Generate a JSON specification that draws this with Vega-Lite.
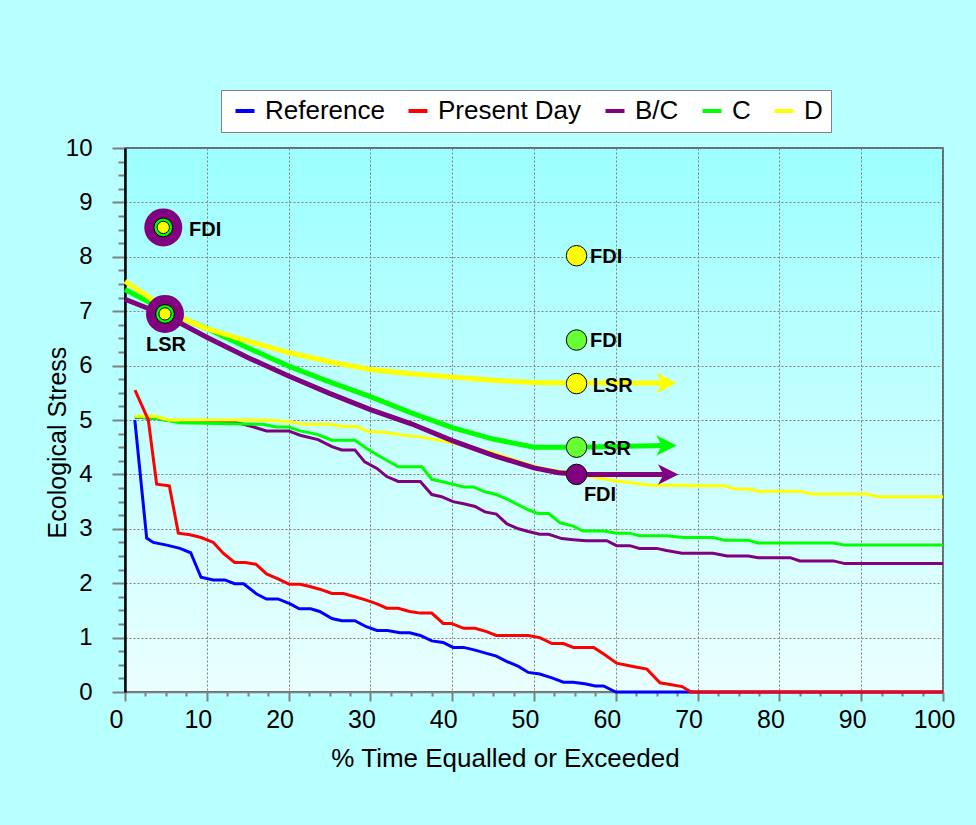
{
  "$schema": "https://vega.github.io/schema/vega-lite/v6.json",
  "autosize": {"type": "none"},
  "width": 818,
  "height": 544,
  "padding": {"left": 125, "top": 148, "right": 33, "bottom": 133},
  "background": "#B8FFFF",
  "config": {
    "font": "Liberation Sans",
    "view": {
      "stroke": "#404040",
      "strokeWidth": 1.5,
      "fill": {"gradient": "linear", "x1": 0, "y1": 0, "x2": 0, "y2": 1,
        "stops": [{"offset": 0, "color": "#9CFFFF"}, {"offset": 1, "color": "#EAFFFF"}]}
    }
  },
  "datasets": {
    "curves": [
      {"series": "B/C", "part": "flow", "x": 1.2, "y": 5.05},
      {"series": "B/C", "part": "flow", "x": 3.7, "y": 5.03},
      {"series": "B/C", "part": "flow", "x": 5.3, "y": 4.99},
      {"series": "B/C", "part": "flow", "x": 13.2, "y": 4.97},
      {"series": "B/C", "part": "flow", "x": 15.3, "y": 4.89},
      {"series": "B/C", "part": "flow", "x": 17.3, "y": 4.8},
      {"series": "B/C", "part": "flow", "x": 20, "y": 4.8},
      {"series": "B/C", "part": "flow", "x": 21.4, "y": 4.72},
      {"series": "B/C", "part": "flow", "x": 23.6, "y": 4.64},
      {"series": "B/C", "part": "flow", "x": 25.3, "y": 4.51},
      {"series": "B/C", "part": "flow", "x": 26.5, "y": 4.45},
      {"series": "B/C", "part": "flow", "x": 28.1, "y": 4.45},
      {"series": "B/C", "part": "flow", "x": 29.3, "y": 4.23},
      {"series": "B/C", "part": "flow", "x": 30.8, "y": 4.11},
      {"series": "B/C", "part": "flow", "x": 32, "y": 3.96},
      {"series": "B/C", "part": "flow", "x": 33.4, "y": 3.87},
      {"series": "B/C", "part": "flow", "x": 36.1, "y": 3.87},
      {"series": "B/C", "part": "flow", "x": 37.5, "y": 3.63},
      {"series": "B/C", "part": "flow", "x": 38.7, "y": 3.59},
      {"series": "B/C", "part": "flow", "x": 40.1, "y": 3.5},
      {"series": "B/C", "part": "flow", "x": 41.4, "y": 3.46},
      {"series": "B/C", "part": "flow", "x": 42.8, "y": 3.41},
      {"series": "B/C", "part": "flow", "x": 44, "y": 3.31},
      {"series": "B/C", "part": "flow", "x": 45.4, "y": 3.27},
      {"series": "B/C", "part": "flow", "x": 46.7, "y": 3.09},
      {"series": "B/C", "part": "flow", "x": 48.1, "y": 3.0},
      {"series": "B/C", "part": "flow", "x": 49.3, "y": 2.95},
      {"series": "B/C", "part": "flow", "x": 50.7, "y": 2.9},
      {"series": "B/C", "part": "flow", "x": 51.8, "y": 2.9},
      {"series": "B/C", "part": "flow", "x": 53.4, "y": 2.82},
      {"series": "B/C", "part": "flow", "x": 54.8, "y": 2.8},
      {"series": "B/C", "part": "flow", "x": 56.4, "y": 2.78},
      {"series": "B/C", "part": "flow", "x": 58.9, "y": 2.78},
      {"series": "B/C", "part": "flow", "x": 60.1, "y": 2.69},
      {"series": "B/C", "part": "flow", "x": 61.7, "y": 2.69},
      {"series": "B/C", "part": "flow", "x": 62.9, "y": 2.64},
      {"series": "B/C", "part": "flow", "x": 65, "y": 2.64},
      {"series": "B/C", "part": "flow", "x": 66.2, "y": 2.6},
      {"series": "B/C", "part": "flow", "x": 68.1, "y": 2.55},
      {"series": "B/C", "part": "flow", "x": 71.9, "y": 2.55},
      {"series": "B/C", "part": "flow", "x": 73.6, "y": 2.5},
      {"series": "B/C", "part": "flow", "x": 76.2, "y": 2.5},
      {"series": "B/C", "part": "flow", "x": 77.4, "y": 2.47},
      {"series": "B/C", "part": "flow", "x": 81.3, "y": 2.47},
      {"series": "B/C", "part": "flow", "x": 82.5, "y": 2.41},
      {"series": "B/C", "part": "flow", "x": 86.6, "y": 2.41},
      {"series": "B/C", "part": "flow", "x": 88, "y": 2.36},
      {"series": "B/C", "part": "flow", "x": 100, "y": 2.36},
      {"series": "C", "part": "flow", "x": 1.2, "y": 5.06},
      {"series": "C", "part": "flow", "x": 3.7, "y": 5.03},
      {"series": "C", "part": "flow", "x": 6.7, "y": 4.95},
      {"series": "C", "part": "flow", "x": 16.9, "y": 4.92},
      {"series": "C", "part": "flow", "x": 18.5, "y": 4.87},
      {"series": "C", "part": "flow", "x": 20, "y": 4.87},
      {"series": "C", "part": "flow", "x": 21.4, "y": 4.8},
      {"series": "C", "part": "flow", "x": 23.4, "y": 4.74},
      {"series": "C", "part": "flow", "x": 25.3, "y": 4.63},
      {"series": "C", "part": "flow", "x": 28.1, "y": 4.63},
      {"series": "C", "part": "flow", "x": 29.5, "y": 4.48},
      {"series": "C", "part": "flow", "x": 30.8, "y": 4.36},
      {"series": "C", "part": "flow", "x": 32, "y": 4.26},
      {"series": "C", "part": "flow", "x": 33.4, "y": 4.14},
      {"series": "C", "part": "flow", "x": 36.3, "y": 4.14},
      {"series": "C", "part": "flow", "x": 37.5, "y": 3.91},
      {"series": "C", "part": "flow", "x": 38.7, "y": 3.87},
      {"series": "C", "part": "flow", "x": 40.1, "y": 3.82},
      {"series": "C", "part": "flow", "x": 41.4, "y": 3.77},
      {"series": "C", "part": "flow", "x": 42.6, "y": 3.77},
      {"series": "C", "part": "flow", "x": 44, "y": 3.68},
      {"series": "C", "part": "flow", "x": 45.4, "y": 3.63},
      {"series": "C", "part": "flow", "x": 46.9, "y": 3.53},
      {"series": "C", "part": "flow", "x": 48.1, "y": 3.44},
      {"series": "C", "part": "flow", "x": 49.3, "y": 3.35},
      {"series": "C", "part": "flow", "x": 50.5, "y": 3.28},
      {"series": "C", "part": "flow", "x": 51.8, "y": 3.28},
      {"series": "C", "part": "flow", "x": 53.2, "y": 3.11},
      {"series": "C", "part": "flow", "x": 54.8, "y": 3.05},
      {"series": "C", "part": "flow", "x": 56, "y": 2.96},
      {"series": "C", "part": "flow", "x": 58.5, "y": 2.96},
      {"series": "C", "part": "flow", "x": 60.1, "y": 2.92},
      {"series": "C", "part": "flow", "x": 61.7, "y": 2.92},
      {"series": "C", "part": "flow", "x": 62.9, "y": 2.87},
      {"series": "C", "part": "flow", "x": 66.2, "y": 2.87},
      {"series": "C", "part": "flow", "x": 68.3, "y": 2.84},
      {"series": "C", "part": "flow", "x": 71.9, "y": 2.84},
      {"series": "C", "part": "flow", "x": 73.3, "y": 2.79},
      {"series": "C", "part": "flow", "x": 76.2, "y": 2.79},
      {"series": "C", "part": "flow", "x": 77.4, "y": 2.74},
      {"series": "C", "part": "flow", "x": 86.6, "y": 2.74},
      {"series": "C", "part": "flow", "x": 88, "y": 2.7},
      {"series": "C", "part": "flow", "x": 100, "y": 2.7},
      {"series": "D", "part": "flow", "x": 1.2, "y": 5.07},
      {"series": "D", "part": "flow", "x": 3.7, "y": 5.07},
      {"series": "D", "part": "flow", "x": 5.3, "y": 5.0},
      {"series": "D", "part": "flow", "x": 17.3, "y": 5.0},
      {"series": "D", "part": "flow", "x": 20.2, "y": 4.97},
      {"series": "D", "part": "flow", "x": 21.8, "y": 4.92},
      {"series": "D", "part": "flow", "x": 25.1, "y": 4.92},
      {"series": "D", "part": "flow", "x": 26.5, "y": 4.88},
      {"series": "D", "part": "flow", "x": 28.3, "y": 4.88},
      {"series": "D", "part": "flow", "x": 29.7, "y": 4.79},
      {"series": "D", "part": "flow", "x": 32, "y": 4.77},
      {"series": "D", "part": "flow", "x": 33.6, "y": 4.73},
      {"series": "D", "part": "flow", "x": 36.1, "y": 4.69},
      {"series": "D", "part": "flow", "x": 40, "y": 4.58},
      {"series": "D", "part": "flow", "x": 45, "y": 4.4},
      {"series": "D", "part": "flow", "x": 48, "y": 4.25},
      {"series": "D", "part": "flow", "x": 50.7, "y": 4.12},
      {"series": "D", "part": "flow", "x": 54, "y": 4.04},
      {"series": "D", "part": "flow", "x": 58.1, "y": 3.93},
      {"series": "D", "part": "flow", "x": 60.1, "y": 3.88},
      {"series": "D", "part": "flow", "x": 62.1, "y": 3.84},
      {"series": "D", "part": "flow", "x": 64.2, "y": 3.8},
      {"series": "D", "part": "flow", "x": 68.3, "y": 3.8},
      {"series": "D", "part": "flow", "x": 69.3, "y": 3.79},
      {"series": "D", "part": "flow", "x": 73.3, "y": 3.79},
      {"series": "D", "part": "flow", "x": 74.6, "y": 3.73},
      {"series": "D", "part": "flow", "x": 76.2, "y": 3.73},
      {"series": "D", "part": "flow", "x": 77.4, "y": 3.69},
      {"series": "D", "part": "flow", "x": 82.5, "y": 3.69},
      {"series": "D", "part": "flow", "x": 83.9, "y": 3.64},
      {"series": "D", "part": "flow", "x": 90.7, "y": 3.64},
      {"series": "D", "part": "flow", "x": 92.1, "y": 3.59},
      {"series": "D", "part": "flow", "x": 100, "y": 3.59},
      {"series": "Reference", "part": "flow", "x": 1.2, "y": 5.0},
      {"series": "Reference", "part": "flow", "x": 2.65, "y": 2.83},
      {"series": "Reference", "part": "flow", "x": 3.46, "y": 2.75},
      {"series": "Reference", "part": "flow", "x": 5.1, "y": 2.7},
      {"series": "Reference", "part": "flow", "x": 6.72, "y": 2.64},
      {"series": "Reference", "part": "flow", "x": 8.03, "y": 2.56},
      {"series": "Reference", "part": "flow", "x": 9.29, "y": 2.11},
      {"series": "Reference", "part": "flow", "x": 10.8, "y": 2.06},
      {"series": "Reference", "part": "flow", "x": 12.2, "y": 2.06},
      {"series": "Reference", "part": "flow", "x": 13.4, "y": 1.99},
      {"series": "Reference", "part": "flow", "x": 14.5, "y": 1.99},
      {"series": "Reference", "part": "flow", "x": 16.1, "y": 1.8},
      {"series": "Reference", "part": "flow", "x": 17.3, "y": 1.71},
      {"series": "Reference", "part": "flow", "x": 18.7, "y": 1.71},
      {"series": "Reference", "part": "flow", "x": 20.2, "y": 1.62},
      {"series": "Reference", "part": "flow", "x": 21.3, "y": 1.53},
      {"series": "Reference", "part": "flow", "x": 22.7, "y": 1.53},
      {"series": "Reference", "part": "flow", "x": 23.8, "y": 1.48},
      {"series": "Reference", "part": "flow", "x": 25.3, "y": 1.35},
      {"series": "Reference", "part": "flow", "x": 26.5, "y": 1.31},
      {"series": "Reference", "part": "flow", "x": 28.1, "y": 1.31},
      {"series": "Reference", "part": "flow", "x": 29.5, "y": 1.2},
      {"series": "Reference", "part": "flow", "x": 30.8, "y": 1.13},
      {"series": "Reference", "part": "flow", "x": 32.1, "y": 1.13},
      {"series": "Reference", "part": "flow", "x": 33.6, "y": 1.09},
      {"series": "Reference", "part": "flow", "x": 34.8, "y": 1.09},
      {"series": "Reference", "part": "flow", "x": 36.1, "y": 1.04},
      {"series": "Reference", "part": "flow", "x": 37.5, "y": 0.94},
      {"series": "Reference", "part": "flow", "x": 38.9, "y": 0.91},
      {"series": "Reference", "part": "flow", "x": 40.1, "y": 0.82},
      {"series": "Reference", "part": "flow", "x": 41.4, "y": 0.82},
      {"series": "Reference", "part": "flow", "x": 42.8, "y": 0.77},
      {"series": "Reference", "part": "flow", "x": 44.2, "y": 0.71},
      {"series": "Reference", "part": "flow", "x": 45.4, "y": 0.66},
      {"series": "Reference", "part": "flow", "x": 46.7, "y": 0.56},
      {"series": "Reference", "part": "flow", "x": 48.1, "y": 0.47},
      {"series": "Reference", "part": "flow", "x": 49.3, "y": 0.36},
      {"series": "Reference", "part": "flow", "x": 50.7, "y": 0.33},
      {"series": "Reference", "part": "flow", "x": 52.2, "y": 0.26},
      {"series": "Reference", "part": "flow", "x": 53.6, "y": 0.18},
      {"series": "Reference", "part": "flow", "x": 54.8, "y": 0.18},
      {"series": "Reference", "part": "flow", "x": 56.2, "y": 0.15},
      {"series": "Reference", "part": "flow", "x": 57.5, "y": 0.11},
      {"series": "Reference", "part": "flow", "x": 58.5, "y": 0.11},
      {"series": "Reference", "part": "flow", "x": 60.0, "y": 0.0},
      {"series": "Reference", "part": "flow", "x": 100, "y": 0.0},
      {"series": "Present Day", "part": "flow", "x": 1.22, "y": 5.55},
      {"series": "Present Day", "part": "flow", "x": 2.85, "y": 5.0},
      {"series": "Present Day", "part": "flow", "x": 3.87, "y": 3.82},
      {"series": "Present Day", "part": "flow", "x": 5.42, "y": 3.79},
      {"series": "Present Day", "part": "flow", "x": 6.52, "y": 2.92},
      {"series": "Present Day", "part": "flow", "x": 7.95, "y": 2.89},
      {"series": "Present Day", "part": "flow", "x": 9.3, "y": 2.84},
      {"series": "Present Day", "part": "flow", "x": 10.8, "y": 2.75},
      {"series": "Present Day", "part": "flow", "x": 12.0, "y": 2.55},
      {"series": "Present Day", "part": "flow", "x": 13.4, "y": 2.38},
      {"series": "Present Day", "part": "flow", "x": 14.7, "y": 2.38},
      {"series": "Present Day", "part": "flow", "x": 16.0, "y": 2.35},
      {"series": "Present Day", "part": "flow", "x": 17.3, "y": 2.17},
      {"series": "Present Day", "part": "flow", "x": 18.7, "y": 2.08},
      {"series": "Present Day", "part": "flow", "x": 20.1, "y": 1.98},
      {"series": "Present Day", "part": "flow", "x": 21.4, "y": 1.98},
      {"series": "Present Day", "part": "flow", "x": 22.6, "y": 1.94},
      {"series": "Present Day", "part": "flow", "x": 23.8, "y": 1.89},
      {"series": "Present Day", "part": "flow", "x": 25.3, "y": 1.81},
      {"series": "Present Day", "part": "flow", "x": 26.7, "y": 1.81},
      {"series": "Present Day", "part": "flow", "x": 28.1, "y": 1.75},
      {"series": "Present Day", "part": "flow", "x": 29.5, "y": 1.69},
      {"series": "Present Day", "part": "flow", "x": 30.8, "y": 1.62},
      {"series": "Present Day", "part": "flow", "x": 32.0, "y": 1.54},
      {"series": "Present Day", "part": "flow", "x": 33.4, "y": 1.54},
      {"series": "Present Day", "part": "flow", "x": 34.8, "y": 1.48},
      {"series": "Present Day", "part": "flow", "x": 36.1, "y": 1.45},
      {"series": "Present Day", "part": "flow", "x": 37.5, "y": 1.45},
      {"series": "Present Day", "part": "flow", "x": 38.9, "y": 1.26},
      {"series": "Present Day", "part": "flow", "x": 39.9, "y": 1.26},
      {"series": "Present Day", "part": "flow", "x": 41.4, "y": 1.17},
      {"series": "Present Day", "part": "flow", "x": 42.8, "y": 1.17},
      {"series": "Present Day", "part": "flow", "x": 44.2, "y": 1.11},
      {"series": "Present Day", "part": "flow", "x": 45.4, "y": 1.04},
      {"series": "Present Day", "part": "flow", "x": 49.3, "y": 1.04},
      {"series": "Present Day", "part": "flow", "x": 50.7, "y": 1.0},
      {"series": "Present Day", "part": "flow", "x": 52.2, "y": 0.89},
      {"series": "Present Day", "part": "flow", "x": 53.6, "y": 0.89},
      {"series": "Present Day", "part": "flow", "x": 54.8, "y": 0.82},
      {"series": "Present Day", "part": "flow", "x": 57.3, "y": 0.82},
      {"series": "Present Day", "part": "flow", "x": 58.7, "y": 0.68},
      {"series": "Present Day", "part": "flow", "x": 60.1, "y": 0.53},
      {"series": "Present Day", "part": "flow", "x": 62.1, "y": 0.47},
      {"series": "Present Day", "part": "flow", "x": 63.8, "y": 0.42},
      {"series": "Present Day", "part": "flow", "x": 65.4, "y": 0.17},
      {"series": "Present Day", "part": "flow", "x": 67.0, "y": 0.13},
      {"series": "Present Day", "part": "flow", "x": 68.1, "y": 0.1},
      {"series": "Present Day", "part": "flow", "x": 69.2, "y": 0.0},
      {"series": "Present Day", "part": "flow", "x": 100, "y": 0.0},
      {"series": "B/C", "part": "trend", "x": 0, "y": 7.22},
      {"series": "B/C", "part": "trend", "x": 5, "y": 6.92},
      {"series": "B/C", "part": "trend", "x": 10, "y": 6.52},
      {"series": "B/C", "part": "trend", "x": 15, "y": 6.15},
      {"series": "B/C", "part": "trend", "x": 20, "y": 5.81},
      {"series": "B/C", "part": "trend", "x": 25, "y": 5.49},
      {"series": "B/C", "part": "trend", "x": 30, "y": 5.19},
      {"series": "B/C", "part": "trend", "x": 35, "y": 4.93},
      {"series": "B/C", "part": "trend", "x": 40, "y": 4.62},
      {"series": "B/C", "part": "trend", "x": 45, "y": 4.35},
      {"series": "B/C", "part": "trend", "x": 50, "y": 4.12},
      {"series": "B/C", "part": "trend", "x": 53, "y": 4.03},
      {"series": "B/C", "part": "trend", "x": 56, "y": 4.0},
      {"series": "B/C", "part": "trend", "x": 66.4, "y": 4.0},
      {"series": "C", "part": "trend", "x": 0, "y": 7.4},
      {"series": "C", "part": "trend", "x": 2.5, "y": 7.2},
      {"series": "C", "part": "trend", "x": 5, "y": 7.0},
      {"series": "C", "part": "trend", "x": 10, "y": 6.68},
      {"series": "C", "part": "trend", "x": 15, "y": 6.33},
      {"series": "C", "part": "trend", "x": 20, "y": 5.99},
      {"series": "C", "part": "trend", "x": 25, "y": 5.7},
      {"series": "C", "part": "trend", "x": 30, "y": 5.43},
      {"series": "C", "part": "trend", "x": 35, "y": 5.13},
      {"series": "C", "part": "trend", "x": 40, "y": 4.86},
      {"series": "C", "part": "trend", "x": 45, "y": 4.65},
      {"series": "C", "part": "trend", "x": 50, "y": 4.5},
      {"series": "C", "part": "trend", "x": 55, "y": 4.5},
      {"series": "C", "part": "trend", "x": 66.2, "y": 4.53},
      {"series": "D", "part": "trend", "x": 0, "y": 7.55},
      {"series": "D", "part": "trend", "x": 2.5, "y": 7.3},
      {"series": "D", "part": "trend", "x": 5, "y": 7.05},
      {"series": "D", "part": "trend", "x": 7.5, "y": 6.84},
      {"series": "D", "part": "trend", "x": 10, "y": 6.68},
      {"series": "D", "part": "trend", "x": 15, "y": 6.45},
      {"series": "D", "part": "trend", "x": 20, "y": 6.24},
      {"series": "D", "part": "trend", "x": 25, "y": 6.07},
      {"series": "D", "part": "trend", "x": 30, "y": 5.93},
      {"series": "D", "part": "trend", "x": 35, "y": 5.85},
      {"series": "D", "part": "trend", "x": 40, "y": 5.79},
      {"series": "D", "part": "trend", "x": 45, "y": 5.73},
      {"series": "D", "part": "trend", "x": 50, "y": 5.69},
      {"series": "D", "part": "trend", "x": 55, "y": 5.68},
      {"series": "D", "part": "trend", "x": 66.2, "y": 5.68}
    ],
    "sites": [
      {"site": "FDI", "set": "combined", "scenario": "B/C", "x": 4.68, "y": 8.54},
      {"site": "FDI", "set": "combined", "scenario": "C", "x": 4.68, "y": 8.54},
      {"site": "FDI", "set": "combined", "scenario": "D", "x": 4.68, "y": 8.54},
      {"site": "LSR", "set": "combined", "scenario": "B/C", "x": 4.89, "y": 6.95},
      {"site": "LSR", "set": "combined", "scenario": "C", "x": 4.89, "y": 6.95},
      {"site": "LSR", "set": "combined", "scenario": "D", "x": 4.89, "y": 6.95},
      {"site": "FDI", "set": "scenario", "scenario": "D", "x": 55.2, "y": 8.02},
      {"site": "FDI", "set": "scenario", "scenario": "C", "x": 55.2, "y": 6.47},
      {"site": "LSR", "set": "scenario", "scenario": "D", "x": 55.2, "y": 5.67},
      {"site": "LSR", "set": "scenario", "scenario": "C", "x": 55.2, "y": 4.5},
      {"site": "FDI", "set": "scenario", "scenario": "B/C", "x": 55.2, "y": 4.0}
    ],
    "notes": [
      {"text": "FDI", "x": 7.82, "y": 8.49},
      {"text": "LSR", "x": 2.57, "y": 6.38},
      {"text": "FDI", "x": 56.85, "y": 7.99},
      {"text": "FDI", "x": 56.85, "y": 6.45},
      {"text": "LSR", "x": 57.17, "y": 5.63},
      {"text": "LSR", "x": 56.97, "y": 4.47},
      {"text": "FDI", "x": 56.1, "y": 3.62}
    ]
  },
  "encoding": {
    "x": {
      "field": "x", "type": "quantitative",
      "scale": {"domain": [0, 100], "nice": false, "zero": false},
      "axis": {
        "values": [0, 2.5, 5, 7.5, 10, 12.5, 15, 17.5, 20, 22.5, 25, 27.5, 30, 32.5, 35, 37.5, 40, 42.5, 45, 47.5, 50, 52.5, 55, 57.5, 60, 62.5, 65, 67.5, 70, 72.5, 75, 77.5, 80, 82.5, 85, 87.5, 90, 92.5, 95, 97.5, 100],
        "labelExpr": "datum.value % 10 === 0 ? format(datum.value, 'd') : ''",
        "labelOverlap": false,
        "labelFlush": false,
        "labelFontSize": 25,
        "labelColor": "#000000",
        "labelPadding": 6,
        "labelOffset": -9,
        "tickSize": {"condition": {"test": "datum.value % 10 === 0", "value": 9}, "value": 4},
        "tickColor": "#808080",
        "tickWidth": 2,
        "gridOpacity": {"condition": {"test": "datum.value % 10 === 0", "value": 1}, "value": 0},
        "gridColor": "#808080",
        "gridDash": [2, 2],
        "gridWidth": 1,
        "domainColor": "#808080",
        "domainWidth": 1.5,
        "title": "% Time Equalled or Exceeded",
        "titleFontSize": 26,
        "titleFontWeight": "normal",
        "titleColor": "#000000",
        "titleAnchor": "start",
        "titleAlign": "center",
        "titleBaseline": "alphabetic",
        "titleX": 380,
        "titleY": 74
      }
    },
    "y": {
      "field": "y", "type": "quantitative",
      "scale": {"domain": [0, 10], "nice": false, "zero": false},
      "axis": {
        "values": [0, 0.25, 0.5, 0.75, 1, 1.25, 1.5, 1.75, 2, 2.25, 2.5, 2.75, 3, 3.25, 3.5, 3.75, 4, 4.25, 4.5, 4.75, 5, 5.25, 5.5, 5.75, 6, 6.25, 6.5, 6.75, 7, 7.25, 7.5, 7.75, 8, 8.25, 8.5, 8.75, 9, 9.25, 9.5, 9.75, 10],
        "labelExpr": "datum.value % 1 === 0 ? format(datum.value, 'd') : ''",
        "labelOverlap": false,
        "labelFlush": false,
        "labelFontSize": 24,
        "labelColor": "#000000",
        "labelPadding": 20,
        "tickSize": {"condition": {"test": "datum.value % 1 === 0", "value": 13}, "value": 7},
        "tickColor": "#808080",
        "tickWidth": 2,
        "gridOpacity": {"condition": {"test": "datum.value % 1 === 0", "value": 1}, "value": 0},
        "gridColor": "#808080",
        "gridDash": [2, 2],
        "gridWidth": 1,
        "domainColor": "#000000",
        "domainWidth": 2.5,
        "title": "Ecological Stress",
        "titleFontSize": 25,
        "titleFontWeight": "normal",
        "titleColor": "#000000",
        "titleAngle": -90,
        "titleAlign": "center",
        "titleBaseline": "alphabetic",
        "titleX": -60,
        "titleY": 294
      }
    }
  },
  "layer": [
    {
      "data": {"name": "curves"},
      "transform": [{"filter": "datum.part === 'flow'"}],
      "mark": {"type": "line", "strokeWidth": 3, "interpolate": "linear"},
      "encoding": {
        "color": {
          "field": "series", "type": "nominal",
          "scale": {
            "domain": ["Reference", "Present Day", "B/C", "C", "D"],
            "range": ["#0000FF", "#FF0000", "#800080", "#00FF00", "#FFFF00"]
          },
          "legend": {
            "orient": "none",
            "legendX": 96,
            "legendY": -58,
            "direction": "horizontal",
            "title": null,
            "fillColor": "#FFFFFF",
            "strokeColor": "#808080",
            "padding": 8,
            "labelFontSize": 26,
            "labelColor": "#000000",
            "labelLimit": 300,
            "symbolType": "stroke",
            "symbolStrokeWidth": 4,
            "symbolSize": 361,
            "labelOffset": 7,
            "columnPadding": 15,
            "symbolOffset": 3
          }
        }
      }
    },
    {
      "data": {"name": "curves"},
      "transform": [{"filter": "datum.part === 'trend'"}],
      "mark": {"type": "line", "strokeWidth": 5},
      "encoding": {
        "color": {"field": "series", "type": "nominal"}
      }
    },
    {
      "data": {"name": "curves"},
      "transform": [{"filter": "datum.part === 'trend' && datum.x > 66"}],
      "mark": {"type": "point", "filled": true, "opacity": 1, "size": 420, "shape": "M-1,-1L1,0L-1,1L-0.45,0Z"},
      "encoding": {
        "color": {"field": "series", "type": "nominal"}
      }
    },
    {
      "data": {"name": "sites"},
      "transform": [{"filter": "datum.set === 'combined' && datum.scenario === 'B/C'"}],
      "mark": {"type": "circle", "opacity": 1, "size": 1444, "fill": "#800080", "strokeWidth": 0}
    },
    {
      "data": {"name": "sites"},
      "transform": [{"filter": "datum.set === 'combined' && datum.scenario === 'C'"}],
      "mark": {"type": "circle", "opacity": 1, "size": 350, "fill": "#00FF00", "stroke": "#000000", "strokeWidth": 1}
    },
    {
      "data": {"name": "sites"},
      "transform": [{"filter": "datum.set === 'combined' && datum.scenario === 'D'"}],
      "mark": {"type": "circle", "opacity": 1, "size": 150, "fill": "#FFFF00", "stroke": "#000000", "strokeWidth": 1}
    },
    {
      "data": {"name": "sites"},
      "transform": [{"filter": "datum.set === 'scenario'"}],
      "mark": {"type": "point", "filled": true, "opacity": 1, "size": 420, "stroke": "#000000", "strokeWidth": 1},
      "encoding": {
        "fill": {
          "field": "scenario", "type": "nominal",
          "scale": {"domain": ["B/C", "C", "D"], "range": ["#800080", "#66FF33", "#FFFF00"]},
          "legend": null
        }
      }
    },
    {
      "data": {"name": "notes"},
      "mark": {"type": "text", "align": "left", "baseline": "middle", "fontSize": 20, "fontWeight": "bold", "color": "#000000"},
      "encoding": {
        "text": {"field": "text", "type": "nominal"}
      }
    }
  ]
}
